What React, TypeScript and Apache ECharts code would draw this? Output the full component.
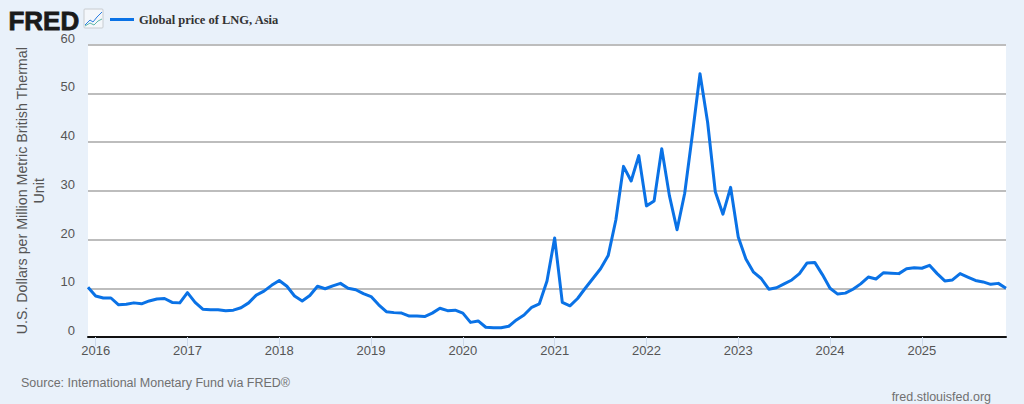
import React, { useEffect, useRef } from "react";
import * as echarts from "echarts";

const startYear = 2015;
const seriesName = "Global price of LNG, Asia";
const yTicks = [0, 10, 20, 30, 40, 50, 60];
const values2015 = [10.2];
const values2016 = [8.4, 8.0, 8.0, 6.6, 6.7, 7.0, 6.8, 7.4, 7.8, 7.9, 7.1, 7.0];
const values2017 = [9.1, 7.1, 5.7, 5.6, 5.6, 5.4, 5.5, 6.0, 7.0, 8.6, 9.4, 10.6];
const values2018 = [11.6, 10.4, 8.4, 7.4, 8.5, 10.4, 9.9, 10.5, 11.0, 10.0, 9.7, 8.9];
const values2019 = [8.3, 6.6, 5.2, 5.0, 4.9, 4.3, 4.3, 4.2, 4.9, 5.9, 5.4, 5.5];
const values2020 = [4.9, 3.0, 3.3, 2.0, 1.9, 1.9, 2.2, 3.5, 4.5, 6.1, 6.8, 11.5];
const values2021 = [20.3, 7.1, 6.4, 7.9, 10.0, 12.0, 14.0, 16.7, 24.0, 35.0, 32.0, 37.2];
const values2022 = [26.9, 27.9, 38.6, 29.0, 22.0, 29.5, 41.5, 54.0, 44.0, 29.8, 25.2, 30.7];
const values2023 = [20.5, 16.0, 13.3, 12.0, 9.8, 10.1, 10.9, 11.7, 13.0, 15.2, 15.3, 12.8];
const values2024 = [10.0, 8.8, 9.0, 9.8, 10.9, 12.3, 11.9, 13.2, 13.1, 13.0, 14.0, 14.2];
const values2025 = [14.1, 14.7, 13.0, 11.5, 11.7, 13.0, 12.3, 11.6, 11.3, 10.8, 11.0, 10.0];

const values = [
  ...values2015, ...values2016, ...values2017, ...values2018, ...values2019, ...values2020,
  ...values2021, ...values2022, ...values2023, ...values2024, ...values2025,
];
const categories = values.map((_, i) => {
  const m = i + 11;
  return `${startYear + Math.floor(m / 12)}-${String((m % 12) + 1).padStart(2, "0")}`;
});
const isJanuary = (_: number, c: string) => c.endsWith("-01");

export default function App() {
  const ref = useRef<HTMLDivElement>(null);
  useEffect(() => {
    document.body.style.margin = "0";
    const chart = echarts.init(ref.current!, null, { renderer: "svg" });
    const font = "'Liberation Sans', Arial, sans-serif";
    chart.setOption({
      animation: false,
      backgroundColor: "#e9f1fa",
      grid: { left: 88, right: 18, top: 44.5, height: 292.5, backgroundColor: "#fff", show: true, borderWidth: 0 },
      legend: {
        left: 110,
        top: 13,
        padding: 0,
        itemWidth: 24,
        itemHeight: 3,
        itemGap: 3,
        icon: "rect",
        textStyle: { fontFamily: "'Liberation Serif', 'Times New Roman', serif", fontWeight: "bold", fontSize: 12.5, color: "#333" },
        data: [seriesName],
      },
      xAxis: {
        type: "category",
        boundaryGap: false,
        data: categories,
        axisLine: { show: true, lineStyle: { color: "#111", width: 2 } },
        axisTick: { show: true, length: 9, interval: isJanuary, lineStyle: { color: "#cdd9ea", width: 1 } },
        axisLabel: {
          interval: isJanuary,
          formatter: (v: string) => v.slice(0, 4),
          color: "#555",
          fontFamily: font,
          fontSize: 13,
          margin: 7,
        },
        splitLine: { show: false },
      },
      yAxis: {
        type: "value",
        min: yTicks[0],
        max: yTicks[yTicks.length - 1],
        interval: 10,
        axisLine: { show: false },
        axisTick: { show: false },
        axisLabel: {
          color: "#555",
          fontFamily: font,
          fontSize: 13,
          margin: 13,
          verticalAlign: "bottom",
          lineHeight: 13,
        },
        splitLine: { lineStyle: { color: "#bdbdbd", width: 2 } },
        name: "U.S. Dollars per Million Metric British Thermal\nUnit",
        nameLocation: "middle",
        nameGap: 41,
        nameRotate: 90,
        nameTextStyle: { color: "#555", fontFamily: font, fontSize: 14.25, lineHeight: 17 },
      },
      series: [
        {
          name: seriesName,
          type: "line",
          data: values,
          showSymbol: false,
          smooth: false,
          lineStyle: { color: "#0a72e6", width: 3, join: "round" },
          itemStyle: { color: "#0a72e6" },
          z: 5,
        },
      ],
      graphic: [
        { type: "text", left: 8, top: 8, style: { text: "FRED", fontFamily: font, fontWeight: 900, fontSize: 26, lineHeight: 21, fill: "#1a1a1a", stroke: "#1a1a1a", lineWidth: 0.8 } },
        { type: "rect", shape: { x: 84, y: 9, width: 19, height: 19, r: 1 }, style: { fill: "#f4f7fb", stroke: "#c8ccd0", lineWidth: 1 } },
        { type: "polyline", shape: { points: [[85, 25], [90, 20], [93, 22], [97, 17], [102, 12]] }, style: { fill: "none", stroke: "#2a7de1", lineWidth: 1 } },
        { type: "polyline", shape: { points: [[85, 26], [90, 23], [94, 25], [98, 21], [102, 19]] }, style: { fill: "none", stroke: "#5fb8a8", lineWidth: 1 } },
        { type: "text", left: 21, top: 376, style: { text: "Source: International Monetary Fund via FRED\u00ae", fontFamily: font, fontSize: 12.5, fill: "#707070" } },
        { type: "text", right: 33, top: 390, style: { text: "fred.stlouisfed.org", fontFamily: font, fontSize: 12.5, fill: "#707070" } },
      ],
    });
    return () => chart.dispose();
  }, []);
  return <div ref={ref} style={{ width: 1024, height: 404 }} />;
}
